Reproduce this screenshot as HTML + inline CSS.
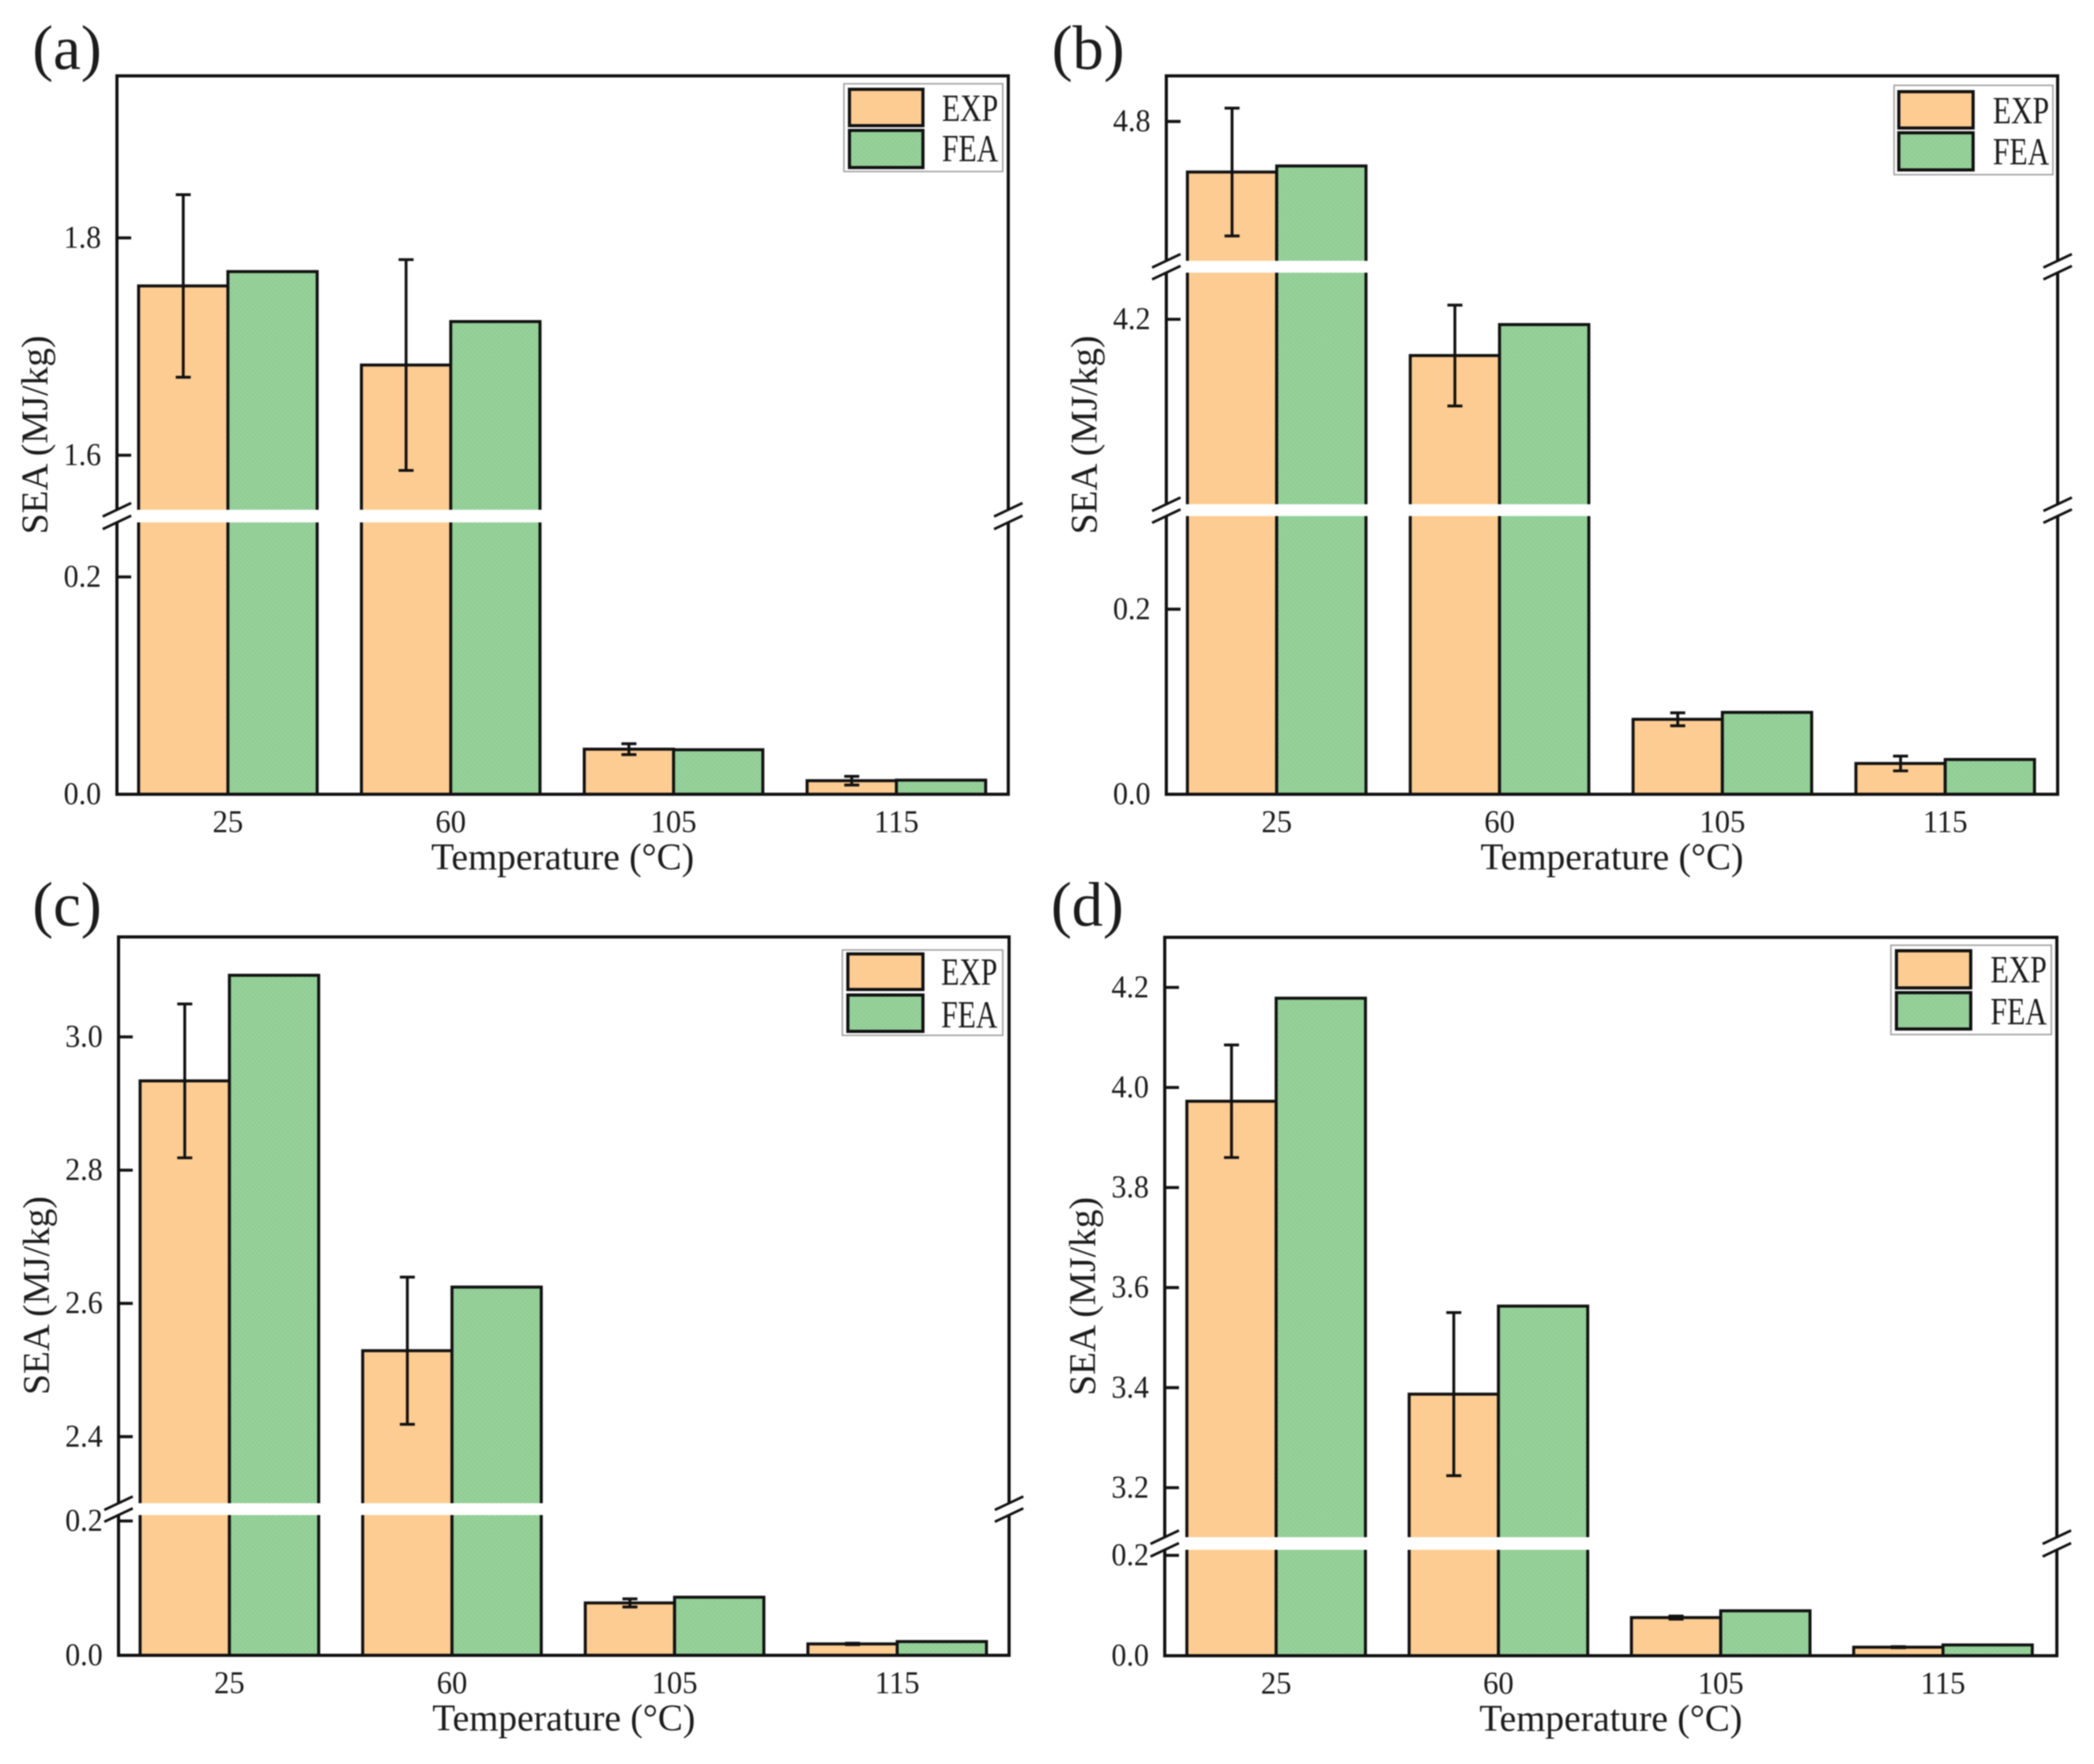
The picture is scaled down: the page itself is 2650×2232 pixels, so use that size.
<!DOCTYPE html>
<html lang="en">
<head>
<meta charset="utf-8">
<title>SEA vs Temperature</title>
<style>
html,body{margin:0;padding:0;background:#fff;width:2650px;height:2232px;overflow:hidden}
svg{display:block;filter:blur(0.7px)}
text{font-family:"Liberation Serif",serif;fill:#1c1c1c}
</style>
</head>
<body>
<svg id="figure" xmlns="http://www.w3.org/2000/svg" width="2650" height="2232" viewBox="0 0 2650 2232">
<defs>
<pattern id="greenDots" width="6" height="6" patternUnits="userSpaceOnUse">
<rect width="6" height="6" fill="#96D29A"></rect>
<rect x="0" y="0" width="3" height="3" fill="#90CD94"></rect>
<rect x="3" y="3" width="3" height="3" fill="#90CD94"></rect>
</pattern>
</defs>
</svg>
<script>
/* ---------- chart data ---------- */
const temperatureLabels = ['25', '60', '105', '115'];

const panelAExp = [1.7558, 1.683, 0.0415, 0.0125];
const panelAFea = [1.769, 1.723, 0.041, 0.013];
const panelAErr = [0.084, 0.097, 0.005, 0.004];
const panelATicks = [0, 0.2, 1.6, 1.8];
const panelATickLabels = ['0.0', '0.2', '1.6', '1.8'];

const panelBExp = [4.6466, 4.09, 0.081, 0.0333];
const panelBFea = [4.665, 4.184, 0.0885, 0.0376];
const panelBErr = [0.194, 0.153, 0.007, 0.008];
const panelBTicks = [0, 0.2, 4.2, 4.8];
const panelBTickLabels = ['0.0', '0.2', '4.2', '4.8'];

const panelCExp = [2.934, 2.529, 0.078, 0.017];
const panelCFea = [3.0925, 2.6245, 0.0865, 0.0205];
const panelCErr = [0.1155, 0.1105, 0.006, 0.001];
const panelCTicks = [0, 0.2, 2.4, 2.6, 2.8, 3.0];
const panelCTickLabels = ['0.0', '0.2', '2.4', '2.6', '2.8', '3.0'];

const panelDExp = [3.9725, 3.387, 0.076, 0.017];
const panelDFea = [4.1785, 3.563, 0.0895, 0.0215];
const panelDErr = [0.1125, 0.163, 0.003, 0.001];
const panelDTicks = [0, 0.2, 3.2, 3.4, 3.6, 3.8, 4.0, 4.2];
const panelDTickLabels = ['0.0', '0.2', '3.2', '3.4', '3.6', '3.8', '4.0', '4.2'];

/* ---------- layout (separate from the data) ---------- */
const layoutA = {
  tag: '(a)', tagX: 41, tagY: 87,
  left: 148, right: 1276, top: 96, bottom: 1005,
  center0: 288.4, step: 282, barW: 113,
  titleX: 60, titleY: 676,
  segments: [
    { anchorV: 0, anchorY: 1005, k: 1375 },
    { anchorV: 1.6, anchorY: 576, k: 1375 }
  ],
  gaps: [[645, 661]],
  legend: { box: [1068, 106, 1269, 217], sw: [1075, 1168], exp: [113, 159], fea: [165, 212], textX: 1192, expY: 153, feaY: 204 }
};
const layoutB = {
  tag: '(b)', tagX: 1331, tagY: 87,
  left: 1476, right: 2604, top: 96, bottom: 1005,
  center0: 1615.7, step: 282, barW: 113,
  titleX: 1388, titleY: 676,
  segments: [
    { anchorV: 0, anchorY: 1005, k: 1171 },
    { anchorV: 4.2, anchorY: 404, k: 417 },
    { anchorV: 4.8, anchorY: 153.7, k: 417 }
  ],
  gaps: [[638, 653], [330, 345]],
  legend: { box: [2397, 108, 2598, 221], sw: [2403, 2497], exp: [116, 162], fea: [168, 215], textX: 2522, expY: 156, feaY: 208 }
};
const layoutC = {
  tag: '(c)', tagX: 41, tagY: 1171,
  left: 150, right: 1277, top: 1185.5, bottom: 2094.5,
  center0: 290.3, step: 281.7, barW: 113,
  titleX: 62, titleY: 1765,
  segments: [
    { anchorV: 0, anchorY: 2094.5, k: 850 },
    { anchorV: 3.0, anchorY: 1312, k: 843 }
  ],
  gaps: [[1902, 1917]],
  legend: { box: [1066, 1202, 1269, 1310], sw: [1073, 1168], exp: [1207, 1252], fea: [1259, 1305], textX: 1191, expY: 1246, feaY: 1300 }
};
const layoutD = {
  tag: '(d)', tagX: 1330, tagY: 1171,
  left: 1474, right: 2603, top: 1186, bottom: 2095,
  center0: 1615, step: 281.3, barW: 113,
  titleX: 1386, titleY: 1766,
  segments: [
    { anchorV: 0, anchorY: 2095, k: 635 },
    { anchorV: 4.0, anchorY: 1376, k: 633 }
  ],
  gaps: [[1945, 1961]],
  legend: { box: [2393, 1196, 2596, 1309], sw: [2400, 2494], exp: [1203, 1250], fea: [1256, 1302], textX: 2519, expY: 1243, feaY: 1296 }
};

const svg = document.getElementById('figure');
const NS = 'http://www.w3.org/2000/svg';
const INK = '#111111';

function make(parent, tag, props) {
  const node = document.createElementNS(NS, tag);
  for (const key in props) node.setAttribute(key, props[key]);
  parent.appendChild(node);
  return node;
}
function textAt(parent, str, x, y, size, sx, anchor, rotate) {
  const t = rotate
    ? 'translate(' + x + ' ' + y + ') rotate(-90)'
    : 'translate(' + x + ' ' + y + ') scale(' + sx + ' 1)';
  const node = make(parent, 'text', { x: 0, y: 0, transform: t, 'font-size': size, 'text-anchor': anchor });
  node.textContent = str;
  return node;
}

function yScale(layout) {
  const segs = layout.segments;
  const starts = segs.map(function (s, i) {
    if (i === 0) return -Infinity;
    return s.anchorV - (layout.gaps[i - 1][0] - s.anchorY) / s.k;
  });
  const fn = function (v) {
    let idx = 0;
    for (let i = 0; i < segs.length; i++) if (v >= starts[i]) idx = i;
    return segs[idx].anchorY - (v - segs[idx].anchorV) * segs[idx].k;
  };
  fn.starts = starts;
  return fn;
}

function drawPanel(layout, exp, fea, err, ticks, tickLabels) {
  const y = yScale(layout);
  const xCenter = function (i) { return layout.center0 + i * layout.step; };
  const g = make(svg, 'g', {});
  
  

  const tagEl = textAt(g, layout.tag, layout.tagX, layout.tagY, 79, 1, 'start', false);
  
  

  /* bars */
  temperatureLabels.forEach(function (label, i) {
    const c = xCenter(i);
    const expBar = make(g, 'rect', { x: c - layout.barW, y: y(exp[i]), width: layout.barW, height: layout.bottom - y(exp[i]), fill: '#FDCC92', stroke: INK, 'stroke-width': 3.8 });
    
    
    const feaBar = make(g, 'rect', { x: c, y: y(fea[i]), width: layout.barW, height: layout.bottom - y(fea[i]), fill: 'url(#greenDots)', stroke: INK, 'stroke-width': 3.8 });
    
    

    /* error bar */
    const ex = c - layout.barW / 2;
    const yHi = y(exp[i] + err[i]);
    const yLo = y(exp[i] - err[i]);
    const errPath = make(g, 'path', {
      d: 'M' + ex + ' ' + yHi + 'V' + yLo + 'M' + (ex - 9.5) + ' ' + yHi + 'H' + (ex + 9.5) + 'M' + (ex - 9.5) + ' ' + yLo + 'H' + (ex + 9.5),
      fill: 'none', stroke: INK, 'stroke-width': 3.6
    });
    
    

    /* x tick label */
    const xt = textAt(g, label, c, layout.bottom + 48, 40, 0.97, 'middle', false);
    
    
  });

  /* white break bands across tall bars */
  layout.gaps.forEach(function (gap, gi) {
    const limit = y.starts[gi + 1];
    temperatureLabels.forEach(function (label, i) {
      if (Math.max(exp[i], fea[i]) >= limit) {
        const band = make(g, 'rect', { x: xCenter(i) - layout.barW - 3, y: gap[0], width: 2 * layout.barW + 6, height: gap[1] - gap[0], fill: '#fff' });
        
        
      }
    });
  });

  /* frame */
  const stops = layout.gaps.slice().sort(function (a, b) { return a[0] - b[0]; });
  function sideLine(x) {
    let d = '';
    let cursor = layout.top;
    stops.forEach(function (gap) {
      d += 'M' + x + ' ' + cursor + 'V' + gap[0];
      cursor = gap[1];
    });
    d += 'M' + x + ' ' + cursor + 'V' + layout.bottom;
    return d;
  }
  const frame = make(g, 'path', {
    d: 'M' + (layout.left - 2) + ' ' + layout.top + 'H' + (layout.right + 2) + 'M' + (layout.left - 2) + ' ' + layout.bottom + 'H' + (layout.right + 2) + sideLine(layout.left) + sideLine(layout.right),
    fill: 'none', stroke: INK, 'stroke-width': 4
  });
  
  

  /* break slashes */
  layout.gaps.forEach(function (gap) {
    [layout.left, layout.right].forEach(function (x) {
      gap.forEach(function (gy) {
        const s = make(g, 'line', { x1: x - 18, y1: gy + 8.5, x2: x + 18, y2: gy - 8.5, stroke: INK, 'stroke-width': 3.2 });
        
        
      });
    });
  });

  /* y ticks */
  ticks.forEach(function (v, i) {
    const ty = y(v);
    const tick = make(g, 'line', { x1: layout.left, y1: ty, x2: layout.left + 18, y2: ty, stroke: INK, 'stroke-width': 3.8 });
    
    
    const lab = textAt(g, tickLabels[i], layout.left - 20, ty + 12.5, 40, 0.95, 'end', false);
    
    
  });

  /* axis titles */
  const xTitle = textAt(g, 'Temperature (\u00B0C)', (layout.left + layout.right) / 2, layout.bottom + 95, 47.4, 1, 'middle', false);
  
  
  const yTitle = textAt(g, 'SEA (MJ/kg)', layout.titleX, layout.titleY, 47.4, 1, 'start', true);
  
  

  /* legend */
  const L = layout.legend;
  const lg = make(g, 'g', {});
  
  
  const box = make(lg, 'rect', { x: L.box[0], y: L.box[1], width: L.box[2] - L.box[0], height: L.box[3] - L.box[1], fill: '#fff', stroke: '#a8a8a8', 'stroke-width': 2 });
  
  
  const swE = make(lg, 'rect', { x: L.sw[0], y: L.exp[0], width: L.sw[1] - L.sw[0], height: L.exp[1] - L.exp[0], fill: '#FDCC92', stroke: INK, 'stroke-width': 4 });
  
  
  const swF = make(lg, 'rect', { x: L.sw[0], y: L.fea[0], width: L.sw[1] - L.sw[0], height: L.fea[1] - L.fea[0], fill: 'url(#greenDots)', stroke: INK, 'stroke-width': 4 });
  
  
  const tE = textAt(lg, 'EXP', L.textX, L.expY, 49, 0.77, 'start', false);
  
  
  const tF = textAt(lg, 'FEA', L.textX, L.feaY, 49, 0.77, 'start', false);
  
  
}

drawPanel(layoutA, panelAExp, panelAFea, panelAErr, panelATicks, panelATickLabels);
drawPanel(layoutB, panelBExp, panelBFea, panelBErr, panelBTicks, panelBTickLabels);
drawPanel(layoutC, panelCExp, panelCFea, panelCErr, panelCTicks, panelCTickLabels);
drawPanel(layoutD, panelDExp, panelDFea, panelDErr, panelDTicks, panelDTickLabels);
</script>
</body>
</html>
